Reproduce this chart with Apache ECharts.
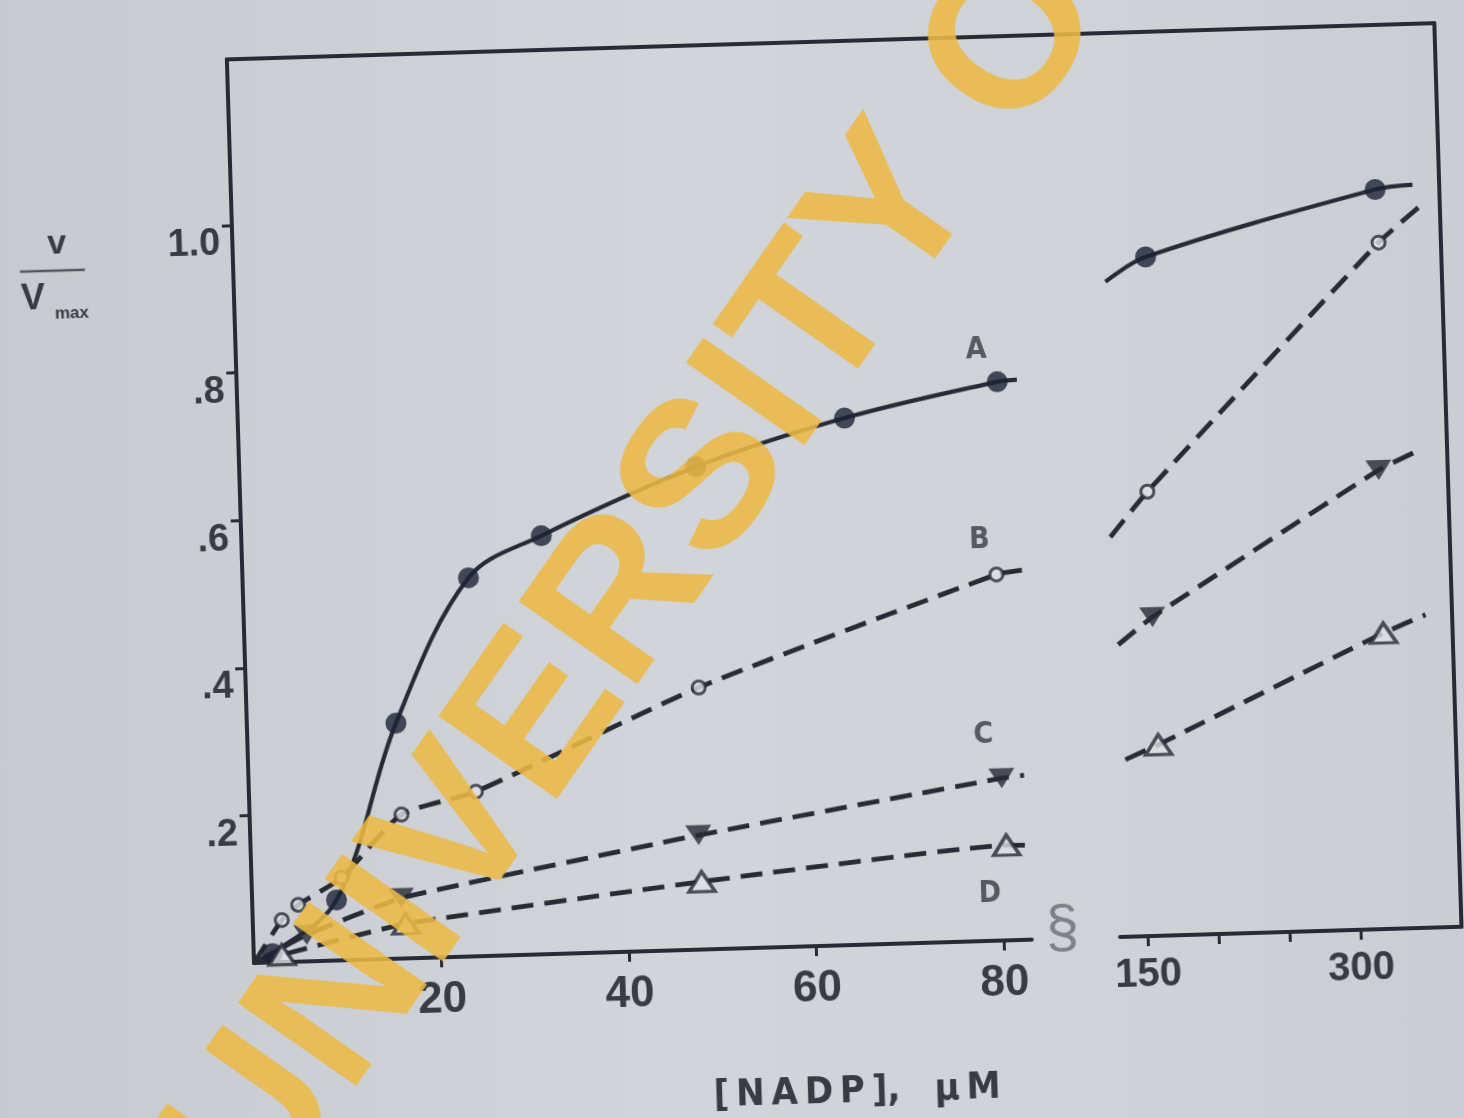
<!DOCTYPE html>
<html>
<head>
<meta charset="utf-8">
<script src="https://cdn.jsdelivr.net/npm/echarts@6/dist/echarts.min.js"></script>
<style>
html, body { margin: 0; padding: 0; width: 1464px; height: 1118px; overflow: hidden;
  background: linear-gradient(90deg, #c7cbcf 0%, #d1d4d8 45%, #cfd2d6 75%, #cacdd1 100%); }
#chart { position: absolute; left: 0; top: 0; width: 1500px; height: 1200px;
  transform-origin: 254px 963px; transform: rotate(-1.72deg); }
</style>
</head>
<body>
<div id="chart"></div>
<script>
// ---------- data ----------
const curveNames = ['A', 'B', 'C', 'D'];

// x axis: [NADP] (µM); left panel 0–80, right panel 150–300
const xLeftTicks = [20, 40, 60, 80];
const xLeftTickLabels = ['20', '40', '60', '80'];
const xRightTicks = [150, 200, 250, 300];
const xRightLabelValues = [150, 300];
const xRightTickLabels = ['150', '300'];
const yTicks = [0.2, 0.4, 0.6, 0.8, 1.0];
const yTickLabels = ['.2', '.4', '.6', '.8', '1.0'];

// measured points, left panel  [NADP, v/Vmax]
const A_left = [[2, 0.012], [9.0, 0.082], [15.9, 0.319], [24.1, 0.513], [32.0, 0.567], [48.7, 0.654], [64.7, 0.714], [81.1, 0.757]];
const B_left = [[3.1, 0.057], [4.9, 0.077], [9.6, 0.112], [16.2, 0.195], [24.2, 0.223], [48.3, 0.355], [80.4, 0.496]];
const C_left = [[5.7, 0.036], [15.9, 0.082], [47.8, 0.155], [80.3, 0.220]];
const D_left = [[3.0, 0.010], [16.3, 0.047], [48.0, 0.092], [80.6, 0.129]];
// where each drawn curve starts / stops in the left panel
const A_left_ends = [[0, 0], [83.2, 0.759]];
const B_left_ends = [[0, 0], [83.3, 0.501]];
const C_left_ends = [[0, 0], [82.7, 0.223]];
const D_left_ends = [[0, 0], [82.8, 0.128]];

// measured points, right panel
const A_right = [[163, 0.920], [326, 1.002]];
const B_right = [[159.3, 0.602], [327.3, 0.930]];
const C_right = [[160.2, 0.432], [322.5, 0.622]];
const D_right = [[161.7, 0.259], [322.5, 0.401]];
const A_right_ends = [[134.2, 0.888], [352.4, 1.007]];
const B_right_ends = [[132.3, 0.542], [356.2, 0.976]];
const C_right_ends = [[135.6, 0.396], [352.5, 0.648]];
const D_right_ends = [[138.2, 0.240], [352.5, 0.424]];

// ---------- styling ----------
const INK = '#272b36';
const DOT = '#1c2336';
const PAPER = '#dde0e3';
const TXT = '#383b42';
const FONT = '"Liberation Sans", Arial, sans-serif';
const NARROW = '"Liberation Sans Narrow", "DejaVu Sans Condensed", "Liberation Sans", sans-serif';

const markerStyles = {
  A: { symbol: 'circle', symbolSize: 21, symbolRotate: 0, itemStyle: { color: DOT } },
  B: { symbol: 'circle', symbolSize: 13, symbolRotate: 0, itemStyle: { color: PAPER, borderColor: INK, borderWidth: 3 } },
  C: { symbol: 'triangle', symbolSize: [26, 20], symbolRotate: 180, itemStyle: { color: INK } },
  D: { symbol: 'triangle', symbolSize: [26, 20], symbolRotate: 0, itemStyle: { color: PAPER, borderColor: INK, borderWidth: 3.5 } }
};
const labelOffsets = { A: [-20, -32], B: [-16, -35], C: [-17, -43], D: [-18, 48] };
const dashedCurve = { A: false, B: true, C: true, D: true };
const smoothCurve = { A: 0.35, B: 0.2, C: 0.12, D: 0.12 };

const panels = [
  { gi: 0, pts: { A: A_left, B: B_left, C: C_left, D: D_left }, ends: { A: A_left_ends, B: B_left_ends, C: C_left_ends, D: D_left_ends }, labels: true },
  { gi: 1, pts: { A: A_right, B: B_right, C: C_right, D: D_right }, ends: { A: A_right_ends, B: B_right_ends, C: C_right_ends, D: D_right_ends }, labels: false }
];

const series = [];
panels.forEach(p => {
  curveNames.forEach(name => {
    const pts = p.pts[name];
    const ends = p.ends[name];
    const lineData = [ends[0]].concat(pts, [ends[1]]);
    series.push({
      type: 'line', name: name, xAxisIndex: p.gi, yAxisIndex: p.gi,
      data: lineData, showSymbol: false, smooth: smoothCurve[name], clip: false, silent: true,
      lineStyle: { color: INK, width: dashedCurve[name] ? 4.8 : 4.2, type: dashedCurve[name] ? [22, 11] : 'solid', cap: 'butt' },
      z: 3
    });
    const ms = markerStyles[name];
    const last = pts.length - 1;
    series.push({
      type: 'scatter', name: name, xAxisIndex: p.gi, yAxisIndex: p.gi,
      data: pts, symbol: ms.symbol, symbolSize: ms.symbolSize, symbolRotate: ms.symbolRotate,
      itemStyle: ms.itemStyle, clip: false, silent: true, z: 4,
      label: {
        show: p.labels, position: 'inside', offset: labelOffsets[name],
        formatter: q => (q.dataIndex === last ? name : ''),
        fontFamily: NARROW, fontWeight: 'bold', fontSize: 30, color: TXT
      }
    });
  });
});

// ---------- layout (chart frame in un-tilted coordinates) ----------
const X0 = 254, Y0 = 963;           // origin of the left panel
const PX_PER_X_LEFT = 9.375;
const PX_PER_Y = 738;
const Y_MAX = 1.225;
const X_LEFT_MAX = 83;
const RIGHT_LEFT = 1120.5, RIGHT_MIN = 130.7, PX_PER_X_RIGHT = 1.42, FRAME_RIGHT = 1462;
const plotTop = Y0 - Y_MAX * PX_PER_Y;
const plotH = Y_MAX * PX_PER_Y;

const axisLineStyle = { color: INK, width: 4 };
const tickStyle = { color: INK, width: 3 };

const option = {
  animation: false,
  backgroundColor: 'transparent',
  grid: [
    { left: X0, top: plotTop, width: X_LEFT_MAX * PX_PER_X_LEFT, height: plotH },
    { left: RIGHT_LEFT, top: plotTop, width: FRAME_RIGHT - RIGHT_LEFT, height: plotH },
    { left: X0, top: plotTop, width: FRAME_RIGHT - X0, height: plotH }
  ],
  xAxis: [
    {
      gridIndex: 0, type: 'value', min: 0, max: X_LEFT_MAX,
      axisLine: { show: true, lineStyle: axisLineStyle },
      axisTick: { show: true, customValues: xLeftTicks, length: 10, lineStyle: tickStyle },
      axisLabel: {
        customValues: xLeftTicks, margin: 21,
        formatter: v => xLeftTickLabels[xLeftTicks.indexOf(v)] || '',
        fontFamily: FONT, fontWeight: 'bold', fontSize: 44, color: TXT
      },
      splitLine: { show: false }
    },
    {
      gridIndex: 1, type: 'value', min: RIGHT_MIN, max: RIGHT_MIN + (FRAME_RIGHT - RIGHT_LEFT) / PX_PER_X_RIGHT,
      axisLine: { show: true, onZero: false, lineStyle: axisLineStyle },
      axisTick: { show: true, customValues: xRightTicks, length: 10, lineStyle: tickStyle },
      axisLabel: {
        customValues: xRightLabelValues, margin: 19,
        formatter: v => xRightTickLabels[xRightLabelValues.indexOf(v)] || '',
        fontFamily: FONT, fontWeight: 'bold', fontSize: 40, color: TXT
      },
      splitLine: { show: false }
    },
    {
      gridIndex: 2, type: 'value', min: 0, max: 1, position: 'top',
      axisLine: { show: true, onZero: false, lineStyle: axisLineStyle },
      axisTick: { show: false }, axisLabel: { show: false }, splitLine: { show: false }
    }
  ],
  yAxis: [
    {
      gridIndex: 0, type: 'value', min: 0, max: Y_MAX,
      axisLine: { show: true, lineStyle: axisLineStyle },
      axisTick: { show: true, customValues: yTicks, length: 10, lineStyle: tickStyle },
      axisLabel: {
        customValues: yTicks, margin: 12, verticalAlign: 'top',
        formatter: v => yTickLabels[yTicks.findIndex(t => Math.abs(t - v) < 1e-6)] || '',
        fontFamily: FONT, fontWeight: 'bold', fontSize: 38, color: TXT
      },
      splitLine: { show: false }
    },
    {
      gridIndex: 1, type: 'value', min: 0, max: Y_MAX, position: 'right',
      axisLine: { show: true, onZero: false, lineStyle: axisLineStyle },
      axisTick: { show: false }, axisLabel: { show: false }, splitLine: { show: false }
    },
    { gridIndex: 2, type: 'value', min: 0, max: 1, show: false }
  ],
  graphic: [
    // y-axis title v / Vmax
    { type: 'text', x: 78.5, y: 239, style: { text: 'v', font: 'bold 34px ' + FONT, fill: TXT, align: 'center', verticalAlign: 'middle' } },
    { type: 'line', shape: { x1: 40.7, y1: 265, x2: 105.8, y2: 265 }, style: { stroke: '#55585f', lineWidth: 2.5 } },
    { type: 'text', x: 52.9, y: 293.4, style: { text: 'V', font: 'bold 36px ' + FONT, fill: TXT, align: 'center', verticalAlign: 'middle' } },
    { type: 'text', x: 91.5, y: 308.5, style: { text: 'max', font: 'bold 17px ' + FONT, fill: TXT, align: 'center', verticalAlign: 'middle' } },
    // x-axis title
    { type: 'text', x: 853, y: 1110, style: { text: '[\u2009N\u2009A\u2009D\u2009P\u2009],\u2002\u2002\u03bc\u2009M', font: 'bold 38px ' + NARROW, fill: TXT, align: 'center', verticalAlign: 'middle' } },
    // axis break mark
    { type: 'text', x: 1063, y: 954, style: { text: '\u00a7', font: '60px ' + FONT, fill: '#7e8187', align: 'center', verticalAlign: 'middle' } },
    // watermark
    { type: 'text', x: 207, y: 1187, rotation: 53.3 * Math.PI / 180, z: 100,
      style: { text: 'UNIVERSITY OF', font: 'bold 210px ' + FONT, fill: 'rgba(236,184,68,0.88)', align: 'left', verticalAlign: 'middle' } }
  ],
  series: series
};

const chart = echarts.init(document.getElementById('chart'), null, { renderer: 'canvas' });
chart.setOption(option);
</script>
</body>
</html>
